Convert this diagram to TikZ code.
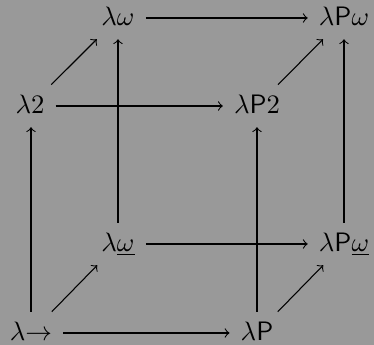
\documentclass[tikz,border=0pt]{standalone}
\usepackage{amsmath}
\begin{document}
\begin{tikzpicture}[x=0.375pt,y=-0.375pt,
  vert/.style={text height=1.5ex,text depth=0.25ex,inner sep=0.4em},
  arr/.style={->,line width=0.4pt}]
\fill[black!40] (0,0) rectangle (374,345);
\useasboundingbox (0,0) rectangle (374,345);
\node[vert] (lo) at (118,18) {$\lambda\omega$};
\node[vert] (lpo) at (344,18) {$\lambda\mathsf{P}\omega$};
\node[vert] (l2) at (30,106) {$\lambda2$};
\node[vert] (lp2) at (257,106) {$\lambda\mathsf{P}2$};
\node[vert] (lou) at (118,244) {$\lambda\underline{\omega}$};
\node[vert] (lpou) at (344,244) {$\lambda\mathsf{P}\underline{\omega}$};
\node[vert] (lt) at (31,333) {$\lambda{\to}$};
\node[vert] (lp) at (257,333) {$\lambda\mathsf{P}$};
\draw[arr] (lo) -- (lpo);
\draw[arr] (l2) -- (lp2);
\draw[arr] (lou) -- (lpou);
\draw[arr] (lt) -- (lp);
\draw[arr] (lt.north -| lt) -- (l2.south -| lt);
\draw[arr] (lou) -- (lo);
\draw[arr] (lp) -- (lp2);
\draw[arr] (lpou) -- (lpo);
\draw[arr] (lt) -- (lou);
\draw[arr] (l2) -- (lo);
\draw[arr] (lp) -- (lpou);
\draw[arr] (lp2) -- (lpo);
\end{tikzpicture}
\end{document}
